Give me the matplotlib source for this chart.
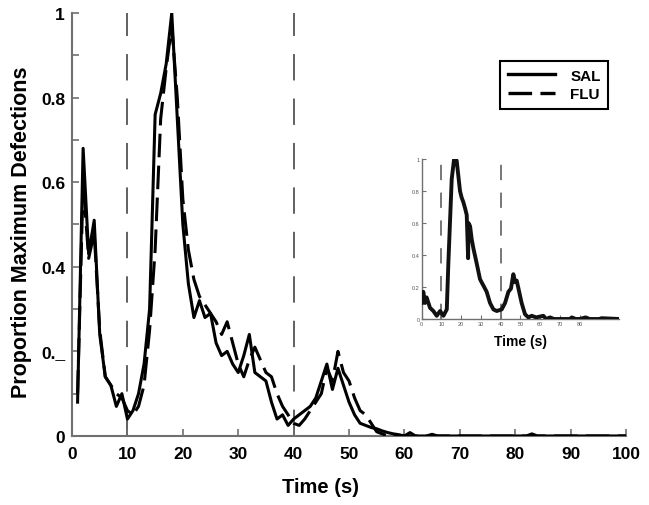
import matplotlib.pyplot as plt
from matplotlib.lines import Line2D

plt.rcParams['font.family'] = ['Liberation Sans', 'DejaVu Sans']
plt.rcParams['lines.scale_dashes'] = False

# main panel, one value per second
t = list(range(1, 101))
sal = [0.08, 0.68, 0.43, 0.51, 0.24, 0.14, 0.12, 0.07, 0.10, 0.04,
       0.06, 0.10, 0.17, 0.30, 0.76, 0.81, 0.88, 1.00, 0.75, 0.50,
       0.36, 0.28, 0.32, 0.28, 0.29, 0.22, 0.19, 0.20, 0.17, 0.15,
       0.19, 0.24, 0.15, 0.14, 0.13, 0.08, 0.04, 0.05, 0.025, 0.04,
       0.05, 0.06, 0.07, 0.09, 0.13, 0.17, 0.11, 0.16, 0.12, 0.08,
       0.05, 0.03, 0.025, 0.02, 0.017, 0.012, 0.008, 0.005, 0.003, 0.0,
       0.008, 0.0, 0.0, 0.0, 0.004, 0.0, 0.0, 0.0, 0.0, 0.0,
       0.0, 0.0, 0.0, 0.0, 0.0, 0.0, 0.0, 0.0, 0.0, 0.0,
       0.0, 0.0, 0.005, 0.0, 0.0, 0.0, 0.0, 0.0, 0.0, 0.0,
       0.0, 0.0, 0.0, 0.0, 0.0, 0.0, 0.0, 0.0, 0.0, 0.0]
flu = [0.10, 0.60, 0.42, 0.48, 0.25, 0.14, 0.12, 0.10, 0.09, 0.06,
       0.05, 0.07, 0.12, 0.25, 0.44, 0.75, 0.87, 0.97, 0.80, 0.56,
       0.44, 0.37, 0.33, 0.31, 0.29, 0.27, 0.24, 0.27, 0.22, 0.17,
       0.14, 0.18, 0.21, 0.18, 0.15, 0.14, 0.10, 0.07, 0.05, 0.03,
       0.025, 0.04, 0.06, 0.08, 0.10, 0.16, 0.13, 0.20, 0.15, 0.13,
       0.09, 0.06, 0.05, 0.03, 0.01, 0.005, 0.0, 0.0, 0.0, 0.0,
       0.0, 0.0, 0.0, 0.0, 0.0, 0.0, 0.0, 0.0, 0.0, 0.0,
       0.0, 0.0, 0.0, 0.0, 0.0, 0.0, 0.0, 0.0, 0.0, 0.0,
       0.0, 0.0, 0.0, 0.0, 0.0, 0.0, 0.0, 0.0, 0.0, 0.0,
       0.0, 0.0, 0.0, 0.0, 0.0, 0.0, 0.0, 0.0, 0.0, 0.0]

# inset panel (read at irregular points)
ins_t = [0, 0.8, 1.7, 2.5, 4.2, 5.9, 7.6, 9.3, 11, 12.7, 13.5, 15.2, 16.4,
         17.7, 19.4, 20.2, 21.1, 22.0, 22.8, 23.5, 23.7, 24.5, 25.3, 26.2,
         27.8, 29.5, 30.3, 31.2, 32.9, 34.6, 36.3, 38, 40.5, 42.2, 43.9,
         45.2, 46.4, 47.3, 48.1, 49, 50.6, 52.3, 54, 55.7, 58, 61.6, 63, 65,
         67, 75, 76, 78, 80, 83, 85, 90, 91, 100]
ins_y = [0.10, 0.17, 0.10, 0.135, 0.07, 0.05, 0.02, 0.05, 0.02, 0.06, 0.35,
         0.875, 1.0, 0.99, 0.80, 0.76, 0.73, 0.69, 0.65, 0.38, 0.60, 0.58,
         0.50, 0.44, 0.35, 0.25, 0.23, 0.21, 0.17, 0.10, 0.06, 0.05, 0.06,
         0.10, 0.17, 0.19, 0.28, 0.23, 0.24, 0.19, 0.10, 0.03, 0.01, 0.02,
         0.01, 0.02, 0.0, 0.01, 0.0, 0.0, 0.01, 0.0, 0.0, 0.01, 0.0, 0.0,
         0.005, 0.0]

events = [10, 40]
yticks = [0, 0.2, 0.4, 0.6, 0.8, 1]
ytick_labels = ['0', '0._', '0.4', '0.6', '0.8', '1']

spine_col = '#707070'

fig = plt.figure(figsize=(6.49, 5.06), dpi=100)
ax = fig.add_axes([0.111, 0.1364, 0.8536, 0.836])

for ev in events:
    ax.axvline(ev, color='#606060', lw=1.4, linestyle=(0, (19, 13)), zorder=1)
ax.plot(t, sal, color='black', lw=2.2, zorder=3)
ax.plot(t, flu, color='black', lw=2.2, linestyle=(0, (17, 6)), zorder=3)

ax.set_xlim(0, 100)
ax.set_ylim(0, 1)
ax.set_xticks(range(0, 101, 10))
ax.set_yticks(yticks)
ax.set_yticklabels(ytick_labels)
ax.set_yticks([0.1, 0.3, 0.5, 0.7, 0.9], minor=True)
for s in ['top', 'right']:
    ax.spines[s].set_visible(False)
for s in ['left', 'bottom']:
    ax.spines[s].set_color(spine_col)
    ax.spines[s].set_linewidth(1.5)
ax.tick_params(which='both', direction='in', length=5, width=1.2,
               color=spine_col)
ax.tick_params(axis='x', pad=7, labelsize=12.5)
ax.tick_params(axis='y', pad=5, labelsize=12.5)
for lab in ax.get_xticklabels() + ax.get_yticklabels():
    lab.set_fontweight('bold')

fig.text(321 / 649, 1 - 488 / 506, 'Time (s)', fontsize=14.5, fontweight='bold',
         ha='center', va='center')
fig.text(22 / 649, 1 - 232 / 506, 'Proportion Maximum Defections', fontsize=15.5,
         fontweight='bold', rotation=90, ha='center', va='center')

handles = [Line2D([], [], color='black', lw=2.4),
           Line2D([], [], color='black', lw=2.4, linestyle=(0, (17, 6)))]
leg = ax.legend(handles, ['SAL', 'FLU'], loc='upper left',
                bbox_to_anchor=(500 / 649, 1 - 62 / 506),
                bbox_transform=fig.transFigure, borderaxespad=0,
                fancybox=False, edgecolor='black', handlelength=3.1,
                prop={'weight': 'bold', 'size': 11}, framealpha=1,
                borderpad=0.5, labelspacing=0.3, handletextpad=1.0)
leg.get_frame().set_linewidth(1.5)

# inset
ins = fig.add_axes([421.7 / 649, 1 - 320 / 506, 197.5 / 649, 160 / 506])
for ev in events:
    ins.axvline(ev, color='#606060', lw=1.2, linestyle=(0, (11, 9)), zorder=1)
ins.plot(ins_t, ins_y, color='#111111', lw=2.8, zorder=3)
ins.set_xlim(0, 100)
ins.set_ylim(0, 1)
ins.set_xticks(range(0, 81, 10))
ins.set_yticks(yticks)
ins.set_yticklabels(['0', '0.2', '0.4', '0.6', '0.8', '1'])
for s in ['top', 'right']:
    ins.spines[s].set_visible(False)
for s in ['left', 'bottom']:
    ins.spines[s].set_color(spine_col)
    ins.spines[s].set_linewidth(1.0)
ins.tick_params(direction='in', length=3, width=0.8, color=spine_col,
                labelsize=4, labelcolor='#555555', pad=1.5)
ins.set_xlabel('Time (s)', fontsize=10, fontweight='bold', labelpad=6)

fig.savefig('out.png', dpi=100)
